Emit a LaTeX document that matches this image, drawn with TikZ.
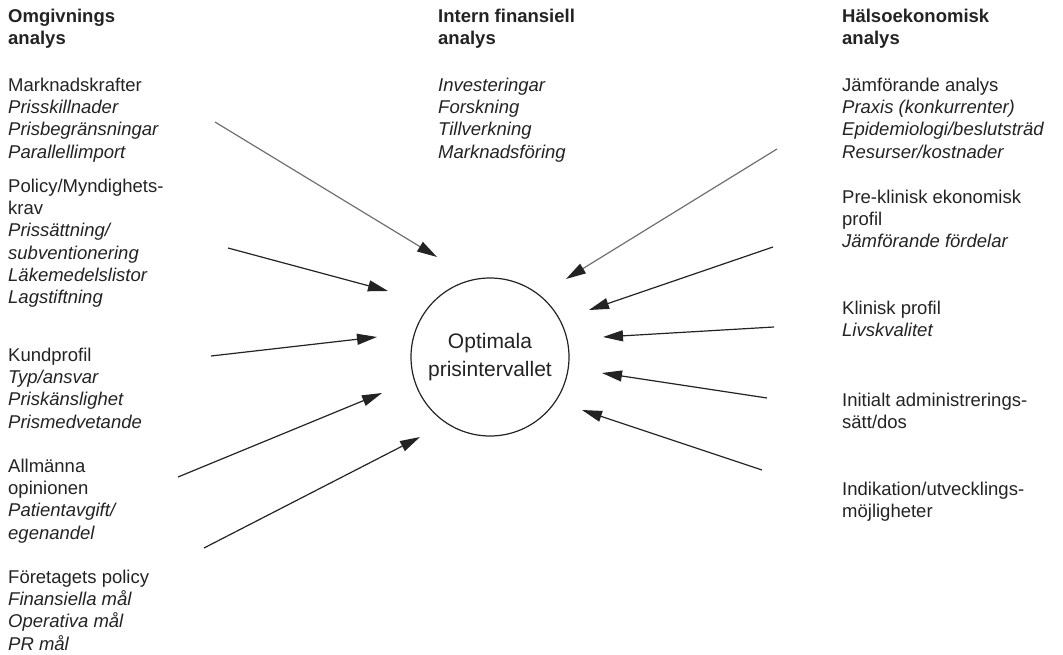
\documentclass[tikz,border=0pt]{standalone}
\usepackage{fontspec}
\setmainfont{Liberation Sans}
\usetikzlibrary{arrows.meta}
\definecolor{ink}{HTML}{232323}
\definecolor{faded}{HTML}{707070}
\newcommand{\bodysize}{\fontsize{18.5}{22.3}\selectfont}
\newcommand{\ringsize}{\fontsize{21}{28}\selectfont}

\begin{document}
\begin{tikzpicture}[x=1pt,y=-1pt,
  txt/.style={anchor=north west, inner sep=0pt, align=left, font=\bodysize, text=ink},
  ring/.style={draw=ink, circle, line width=1.2pt, minimum size=158pt, inner sep=0pt,
               align=center, font=\ringsize, text=ink},
  arr/.style={draw=ink, line width=1.2pt, -{Triangle[length=20pt,width=11pt,color=ink]}},
  farr/.style={arr, draw=faded}
]
\useasboundingbox (0,0) rectangle (1063,655);

% ---- left column: Omgivningsanalys
\node[txt] (lt) at (8,6.4)   {\strut\textbf{Omgivnings}\\\textbf{analys}};
\node[txt] (l1) at (8,75.4)  {\strut Marknadskrafter\\\textit{Prisskillnader}\\\textit{Prisbegränsningar}\\\textit{Parallellimport}};
\node[txt] (l2) at (8,176.4) {\strut Policy/Myndighets-\\krav\\\textit{Prissättning/}\\\textit{subventionering}\\\textit{Läkemedelslistor}\\\textit{Lagstiftning}};
\node[txt] (l3) at (8,345.4) {\strut Kundprofil\\\textit{Typ/ansvar}\\\textit{Priskänslighet}\\\textit{Prismedvetande}};
\node[txt] (l4) at (8,456.4) {\strut Allmänna\\opinionen\\\textit{Patientavgift/}\\\textit{egenandel}};
\node[txt] (l5) at (8,567.4) {\strut Företagets policy\\\textit{Finansiella mål}\\\textit{Operativa mål}\\\textit{PR mål}};

% ---- middle column: intern finansiell analys
\node[txt] (mt) at (438,6.4)  {\strut\textbf{Intern finansiell}\\\textbf{analys}};
\node[txt] (m1) at (438,75.4) {\strut\textit{Investeringar}\\\textit{Forskning}\\\textit{Tillverkning}\\\textit{Marknadsföring}};

% ---- right column: hälsoekonomisk analys
\node[txt] (rt) at (842,6.4)   {\strut\textbf{Hälsoekonomisk}\\\textbf{analys}};
\node[txt] (r1) at (842,75.4)  {\strut Jämförande analys\\\textit{Praxis (konkurrenter)}\\\textit{Epidemiologi/beslutsträd}\\\textit{Resurser/kostnader}};
\node[txt] (r2) at (842,187.4) {\strut Pre-klinisk ekonomisk\\profil\\\textit{Jämförande fördelar}};
\node[txt] (r3) at (842,298.4) {\strut Klinisk profil\\\textit{Livskvalitet}};
\node[txt] (r4) at (842,390.4) {\strut Initialt administrerings-\\sätt/dos};
\node[txt] (r5) at (842,479.4) {\strut Indikation/utvecklings-\\möjligheter};

% ---- the central target
\node[ring] (c) at (490,357) {Optimala\\prisintervallet};

% ---- arrow end points
\coordinate (a1s) at (215,122); \coordinate (a1e) at (437,257);
\coordinate (a2s) at (228,248); \coordinate (a2e) at (388,291);
\coordinate (a3s) at (211,356); \coordinate (a3e) at (377,337);
\coordinate (a4s) at (178,477); \coordinate (a4e) at (382,393);
\coordinate (a5s) at (204,548); \coordinate (a5e) at (420,437);

\coordinate (b1s) at (777,149); \coordinate (b1e) at (566,279);
\coordinate (b2s) at (773,247); \coordinate (b2e) at (589,310);
\coordinate (b3s) at (774,327); \coordinate (b3e) at (603,337);
\coordinate (b4s) at (767,398); \coordinate (b4e) at (602,373);
\coordinate (b5s) at (762,470); \coordinate (b5e) at (582,410);

% ---- arrows into the circle
\draw[farr] (a1s) -- (a1e);
\draw[arr]  (a2s) -- (a2e);
\draw[arr]  (a3s) -- (a3e);
\draw[arr]  (a4s) -- (a4e);
\draw[arr]  (a5s) -- (a5e);

\draw[farr] (b1s) -- (b1e);
\draw[arr]  (b2s) -- (b2e);
\draw[arr]  (b3s) -- (b3e);
\draw[arr]  (b4s) -- (b4e);
\draw[arr]  (b5s) -- (b5e);
\end{tikzpicture}
\end{document}
